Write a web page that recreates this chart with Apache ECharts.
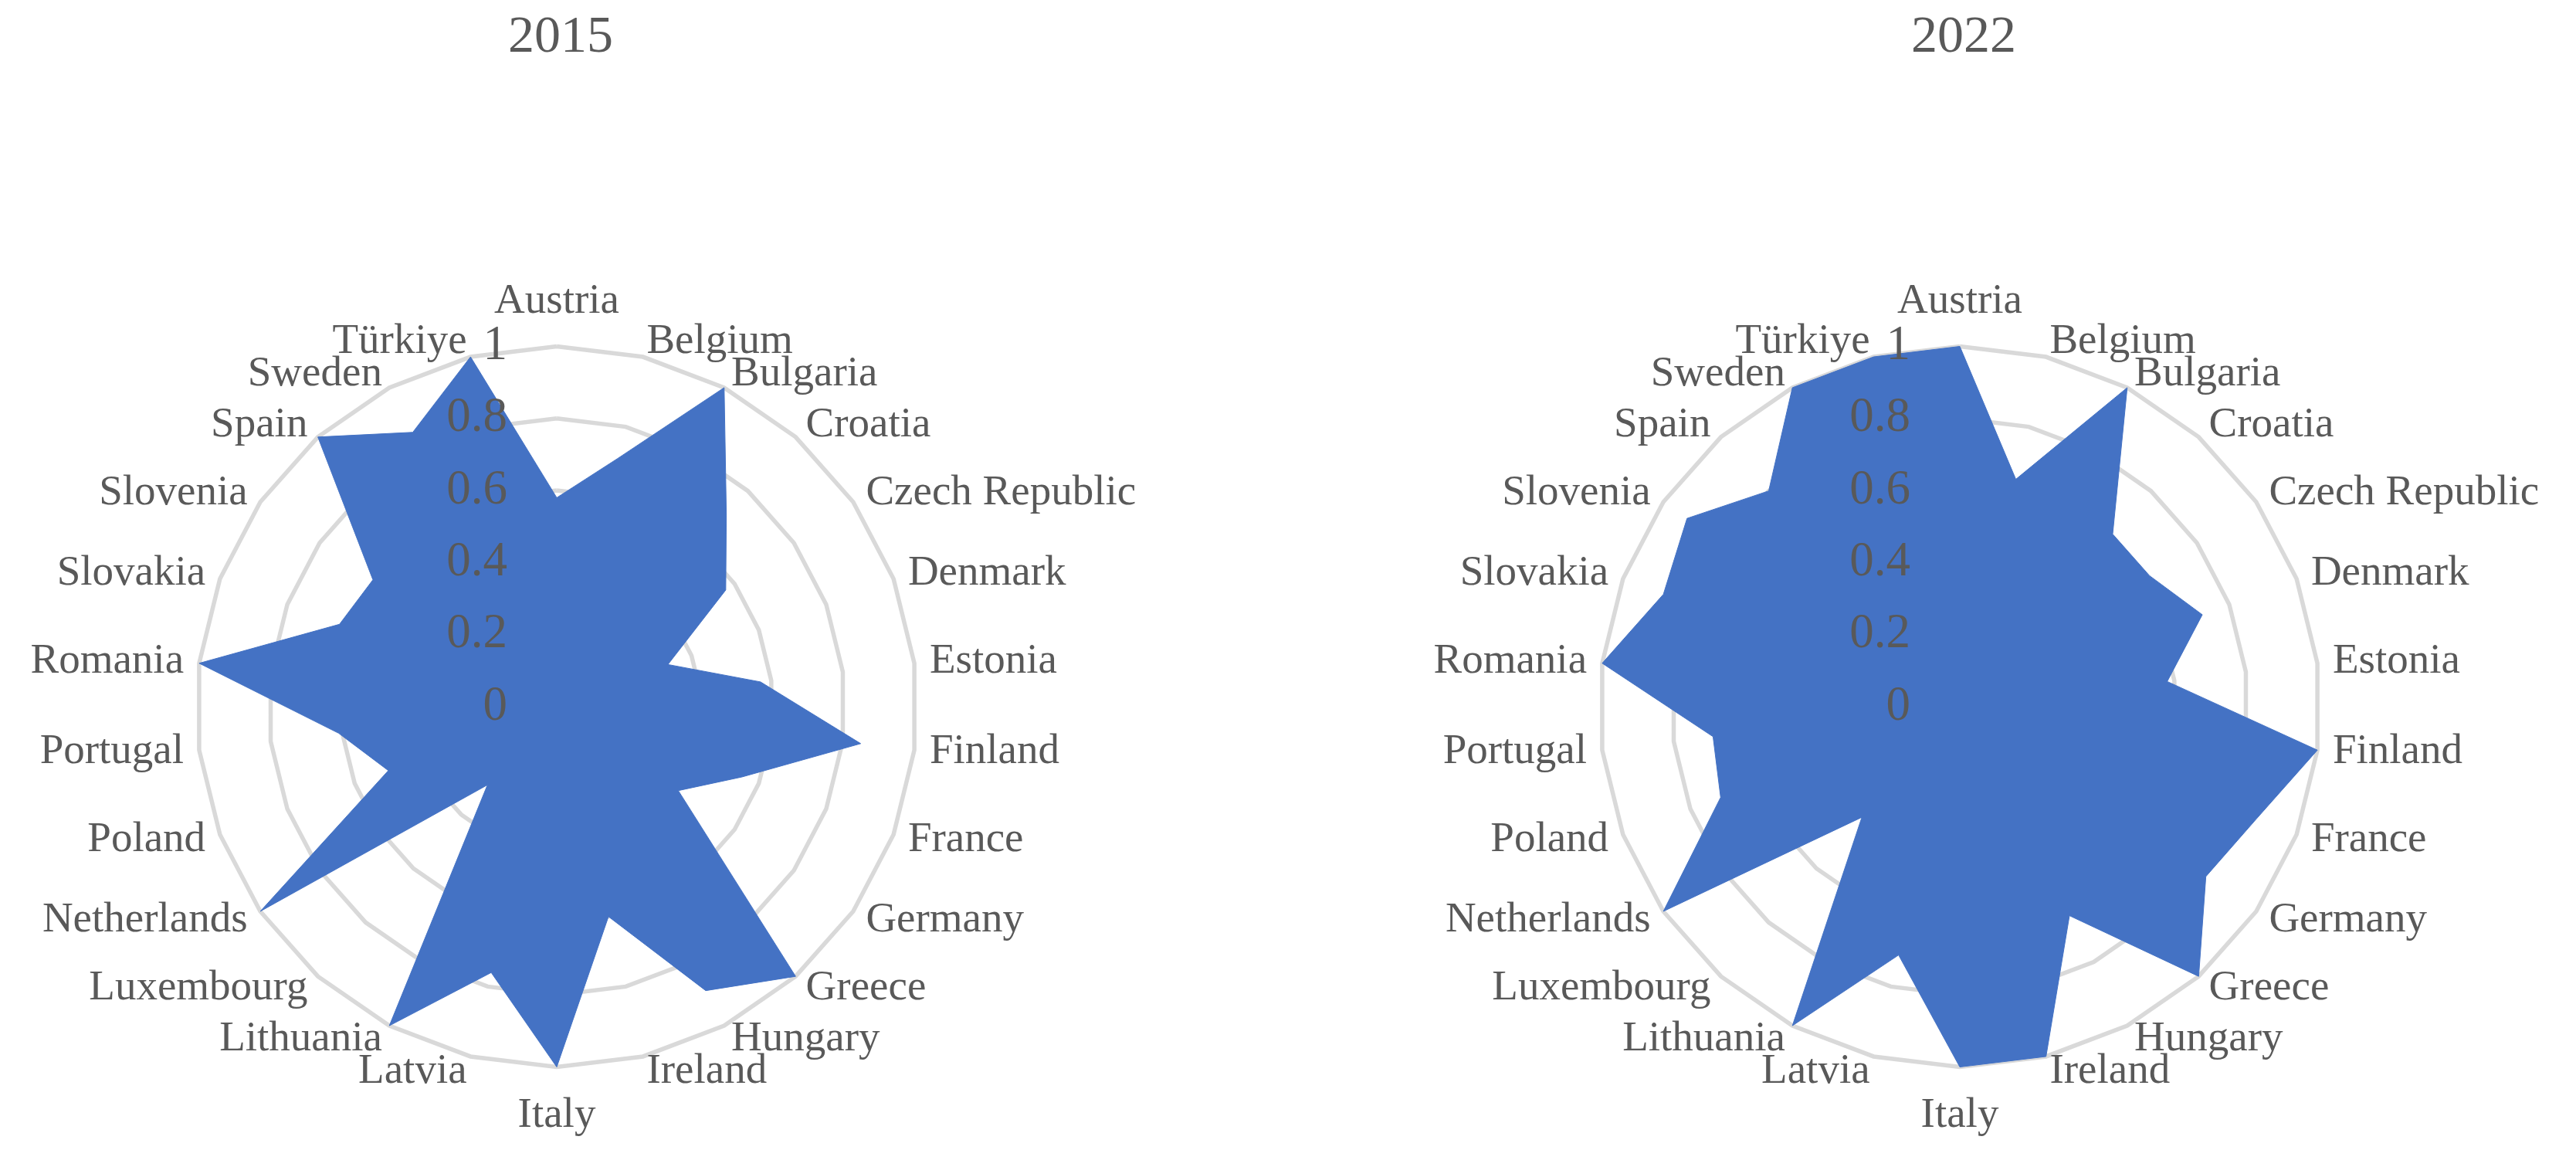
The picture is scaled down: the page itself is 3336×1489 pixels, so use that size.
<!DOCTYPE html>
<html>
<head>
<meta charset="utf-8">
<title>2015 / 2022</title>
<script src="https://cdn.jsdelivr.net/npm/echarts@6/dist/echarts.min.js"></script>
<style>
    html, body { margin: 0; padding: 0; background: #fff; }
    #main { width: 3336px; height: 1489px; }
</style>
</head>
<body>
<div id="main"></div>
<script>
    // 国家（顺时针，从正上方开始）
    var countries = ['Austria', 'Belgium', 'Bulgaria', 'Croatia', 'Czech Republic', 'Denmark', 'Estonia',
        'Finland', 'France', 'Germany', 'Greece', 'Hungary', 'Ireland', 'Italy', 'Latvia', 'Lithuania',
        'Luxembourg', 'Netherlands', 'Poland', 'Portugal', 'Romania', 'Slovakia', 'Slovenia', 'Spain',
        'Sweden', 'Türkiye'];

    var values2015 = [0.58, 0.71, 1, 0.71, 0.57, 0.33, 0.57, 0.85, 0.55, 0.41, 1, 0.89, 0.60, 1, 0.76, 1,
        0.29, 1, 0.50, 0.61, 1, 0.645, 0.62, 1, 0.86, 1];

    var values2022 = [1, 0.65, 1, 0.64, 0.64, 0.72, 0.58, 1, 0.88, 0.83, 1, 0.655, 1, 1, 0.71, 1,
        0.41, 1, 0.71, 0.69, 1, 0.88, 0.92, 0.80, 1, 1];

    var years = ['2015', '2022'];

    // 刻度
    var axisMin = 0;
    var axisMax = 1;
    var axisStep = 0.2;

    var textColor = '#595959';
    var fillColor = '#4472C4';
    var gridColor = '#D9D9D9';
    var serif = '"Palatino Linotype", "Book Antiqua", Palatino, "Liberation Serif", serif';

    var centers = [[721, 915], [2538, 915]];
    var R = 466.5;

    // echarts 雷达图是逆时针排列的，这里把顺序反过来（Austria 保持在最上面）
    function clockwiseOrder(arr) {
        return [arr[0]].concat(arr.slice(1).reverse());
    }

    var indicators = clockwiseOrder(countries).map(function (name) {
        return { name: name, min: axisMin, max: axisMax };
    });

    var myChart = echarts.init(document.getElementById('main'));

    var option = {
        backgroundColor: '#fff',
        animation: false,
        title: years.map(function (y, i) {
            return {
                text: y,
                left: centers[i][0],
                top: 10,
                textAlign: 'center',
                textStyle: {
                    color: textColor,
                    fontFamily: serif,
                    fontWeight: 'normal',
                    fontSize: 68
                }
            };
        }),
        radar: years.map(function (y, i) {
            return {
                center: centers[i],
                radius: R,
                startAngle: 90,
                shape: 'polygon',
                splitNumber: 5,
                indicator: indicators,
                axisName: {
                    color: textColor,
                    fontFamily: serif,
                    fontSize: 55,
                    // 上下留白，让最上面和最下面的名字离得远一点
                    padding: [16, 0, 10, 0]
                },
                nameGap: 20,
                axisLine: { show: false },
                axisTick: { show: false },
                splitArea: { show: false },
                splitLine: {
                    lineStyle: { color: gridColor, width: 5.5 }
                }
            };
        }),
        // 只用来在 Austria 轴左边显示刻度值
        polar: years.map(function (y, i) {
            return { center: centers[i], radius: R };
        }),
        angleAxis: years.map(function (y, i) {
            return { polarIndex: i, startAngle: 90, show: false };
        }),
        radiusAxis: years.map(function (y, i) {
            return {
                polarIndex: i,
                min: axisMin,
                max: axisMax,
                interval: axisStep,
                z: 10,
                axisLine: { show: false },
                axisTick: { show: false },
                splitLine: { show: false },
                axisLabel: {
                    color: textColor,
                    fontFamily: serif,
                    fontSize: 63,
                    margin: 64
                }
            };
        }),
        series: [values2015, values2022].map(function (vals, i) {
            return {
                name: years[i],
                type: 'radar',
                radarIndex: i,
                symbol: 'none',
                z: 2,
                lineStyle: { width: 1, color: fillColor },
                areaStyle: { color: fillColor, opacity: 1 },
                data: [{ value: clockwiseOrder(vals), name: years[i] }]
            };
        })
    };

    myChart.setOption(option);
</script>
</body>
</html>
